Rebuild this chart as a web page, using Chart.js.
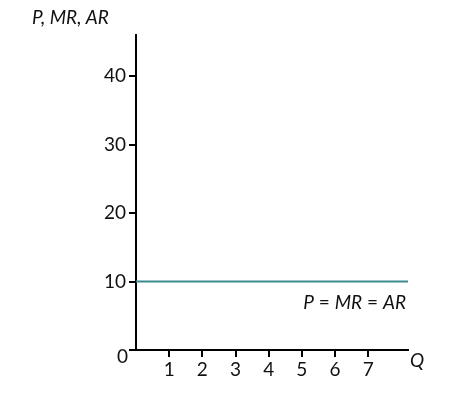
<!DOCTYPE html>
<html>
<head>
<script src="https://cdn.jsdelivr.net/npm/chart.js@4"></script>
<style>body{margin:0;background:#fff}#wrap{width:466px;height:402px}</style>
</head>
<body>
<div id="wrap"><canvas id="c"></canvas></div>
<script>
const quantities = [0, 8.2];
const prices = [10, 10];
const xTicks = [1, 2, 3, 4, 5, 6, 7];
const yTicks = [10, 20, 30, 40];
const curveLabel = 'P = MR = AR';

const labels = {
  id: 'labels',
  afterDraw(chart) {
    const {ctx, scales: {x, y}} = chart;
    ctx.save();
    ctx.fillStyle = '#111';
    ctx.font = 'italic 19px Lato';
    ctx.textAlign = 'left';
    ctx.fillText('P, MR, AR', 32, 24);
    ctx.fillText('Q', x.right + 2, y.bottom + 17);
    ctx.font = '19px Lato';
    ctx.fillText('0', x.left - 19, y.bottom + 13);
    ctx.textAlign = 'right';
    const parts = [['P', true], [' = ', false], ['MR', true], [' = ', false], ['AR', true]];
    let px = x.getPixelForValue(8.2) - 2;
    const py = y.getPixelForValue(prices[1]) + 27;
    for (let i = parts.length - 1; i >= 0; i--) {
      ctx.font = (parts[i][1] ? 'italic ' : '') + '19px Lato';
      ctx.fillText(parts[i][0], px, py);
      px -= ctx.measureText(parts[i][0]).width;
    }
    ctx.restore();
  }
};

new Chart(document.getElementById('c'), {
  type: 'line',
  data: {
    datasets: [{
      label: curveLabel,
      data: quantities.map((q, i) => ({x: q, y: prices[i]})),
      borderColor: '#3d8b8f',
      borderWidth: 2,
      pointRadius: 0,
      fill: false
    }]
  },
  options: {
    animation: false,
    responsive: true,
    maintainAspectRatio: false,
    layout: {padding: {top: 35, right: 58, left: 0, bottom: 0}},
    plugins: {legend: {display: false}, tooltip: {enabled: false}},
    scales: {
      x: {
        type: 'linear', min: 0, max: 8.2,
        afterFit(s) { s.height = 52; },
        afterBuildTicks(s) { s.ticks = xTicks.map(v => ({value: v})); },
        border: {color: '#000', width: 2},
        grid: {drawOnChartArea: false, color: '#000', lineWidth: 2, tickLength: 7},
        ticks: {color: '#111', font: {family: 'Lato', size: 19}, padding: 1}
      },
      y: {
        min: 0, max: 46,
        afterFit(s) { s.width = 136; },
        afterBuildTicks(s) { s.ticks = [0, ...yTicks].map(v => ({value: v})); },
        border: {color: '#000', width: 2},
        grid: {drawOnChartArea: false, color: '#000', lineWidth: 2, tickLength: 7},
        ticks: {color: '#111', font: {family: 'Lato', size: 19}, padding: 3,
                callback: v => v === 0 ? '' : v}
      }
    }
  },
  plugins: [labels]
});
</script>
</body>
</html>
